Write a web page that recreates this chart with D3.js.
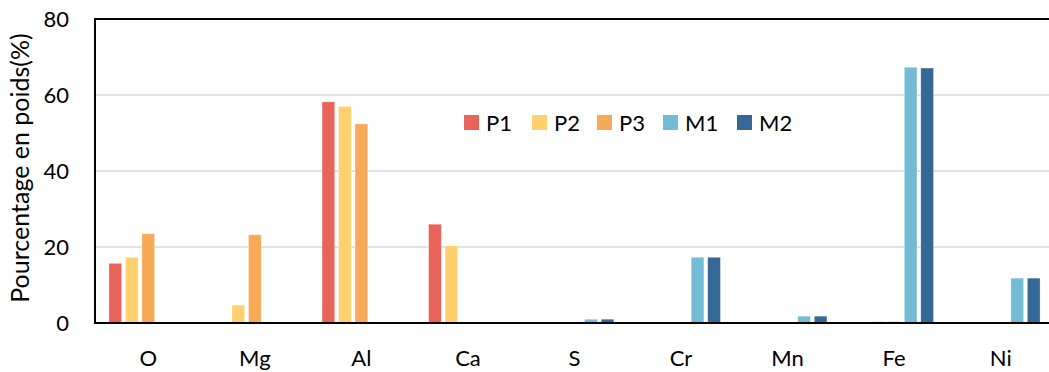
<!DOCTYPE html>
<html>
<head>
<meta charset="utf-8">
<script src="https://cdn.jsdelivr.net/npm/d3@7"></script>
<style>
  html, body { margin: 0; padding: 0; background: #fff; }
  svg { display: block; }
  text { font-family: Lato, "Open Sans", sans-serif; fill: #000; }
</style>
</head>
<body>
<svg id="chart" width="1049" height="372"></svg>
<script>
const categories = ["O", "Mg", "Al", "Ca", "S", "Cr", "Mn", "Fe", "Ni"];
const seriesNames = ["P1", "P2", "P3", "M1", "M2"];
const P1 = [15.7, 0, 58.2, 26.0, 0, 0, 0, 0, 0];
const P2 = [17.3, 4.7, 57.0, 20.3, 0, 0, 0, 0.4, 0];
const P3 = [23.5, 23.2, 52.4, 0, 0, 0, 0, 0.4, 0];
const M1 = [0, 0, 0, 0, 1.0, 17.3, 1.8, 67.3, 11.8];
const M2 = [0, 0, 0, 0, 1.0, 17.3, 1.8, 67.1, 11.8];
const yTicks = [0, 20, 40, 60, 80];
const colors = ["#E8635A", "#FED06E", "#F6AA58", "#74BCD6", "#366896"];
const yLabel = "Pourcentage en poids(%)";

const seriesValues = [P1, P2, P3, M1, M2];

(function () {
const svg = d3.select("#chart");
const mL = 95, mR = 1054, mT = 19, mB = 323;

const x0 = d3.scaleBand().domain(categories).range([mL, mR]).padding(0);
const groupW = x0.bandwidth() * 0.774;
const x1 = d3.scaleBand().domain(seriesNames)
  .range([-groupW / 2, groupW / 2]).paddingInner(0.23).paddingOuter(0.115);
const y = d3.scaleLinear().domain([0, 80]).range([mB, mT]);

// gridlines
svg.append("g").selectAll("line").data(yTicks.filter(t => t > 0 && t < 80)).join("line")
  .attr("x1", mL).attr("x2", mR)
  .attr("y1", d => y(d)).attr("y2", d => y(d))
  .attr("stroke", "#d9d9d9").attr("stroke-width", 1.5);

// bars
const data = [];
categories.forEach((c, i) => {
  seriesNames.forEach((s, j) => {
    data.push({ cat: c, ser: s, val: seriesValues[j][i], color: colors[j] });
  });
});
svg.append("g").selectAll("rect").data(data.filter(d => d.val > 0)).join("rect")
  .attr("x", d => x0(d.cat) + x0.bandwidth() / 2 + x1(d.ser))
  .attr("width", x1.bandwidth())
  .attr("y", d => y(d.val))
  .attr("height", d => y(0) - y(d.val))
  .attr("fill", d => d.color)
  .attr("stroke", "#ffffff").attr("stroke-opacity", 0.5).attr("stroke-width", 0.6);

// frame lines
svg.append("line").attr("x1", mL).attr("x2", mR).attr("y1", mT).attr("y2", mT)
  .attr("stroke", "#000").attr("stroke-width", 2);
svg.append("line").attr("x1", mL).attr("x2", mR).attr("y1", mB).attr("y2", mB)
  .attr("stroke", "#000").attr("stroke-width", 2);
svg.append("line").attr("x1", mL).attr("x2", mL).attr("y1", mT - 1).attr("y2", mB + 1)
  .attr("stroke", "#000").attr("stroke-width", 2);

// y axis
const yAxis = svg.append("g").attr("transform", `translate(${mL},0)`)
  .call(d3.axisLeft(y).tickValues(yTicks).tickSize(0).tickPadding(26));
yAxis.select(".domain").remove();
yAxis.selectAll("text").style("font-size", "22px").style("font-family", "Lato, sans-serif").attr("fill", "#000");

// x axis
const xAxis = svg.append("g").attr("transform", `translate(0,${mB})`)
  .call(d3.axisBottom(x0).tickSize(0).tickPadding(27));
xAxis.select(".domain").remove();
xAxis.selectAll("text").style("font-size", "22px").style("font-family", "Lato, sans-serif").attr("fill", "#000");

// y label
svg.append("text")
  .attr("transform", `translate(29,168) rotate(-90)`)
  .attr("text-anchor", "middle")
  .style("font-size", "25px")
  .text(yLabel);

// legend
const legendX = [464, 532, 597, 663, 737];
const lg = svg.append("g").selectAll("g").data(seriesNames).join("g")
  .attr("transform", (d, i) => `translate(${legendX[i]},115)`);
lg.append("rect").attr("width", 15).attr("height", 15).attr("fill", (d, i) => colors[i]);
lg.append("text").attr("x", 22).attr("y", 15.5).style("font-size", "22px").text(d => d);
})();
</script>
</body>
</html>
